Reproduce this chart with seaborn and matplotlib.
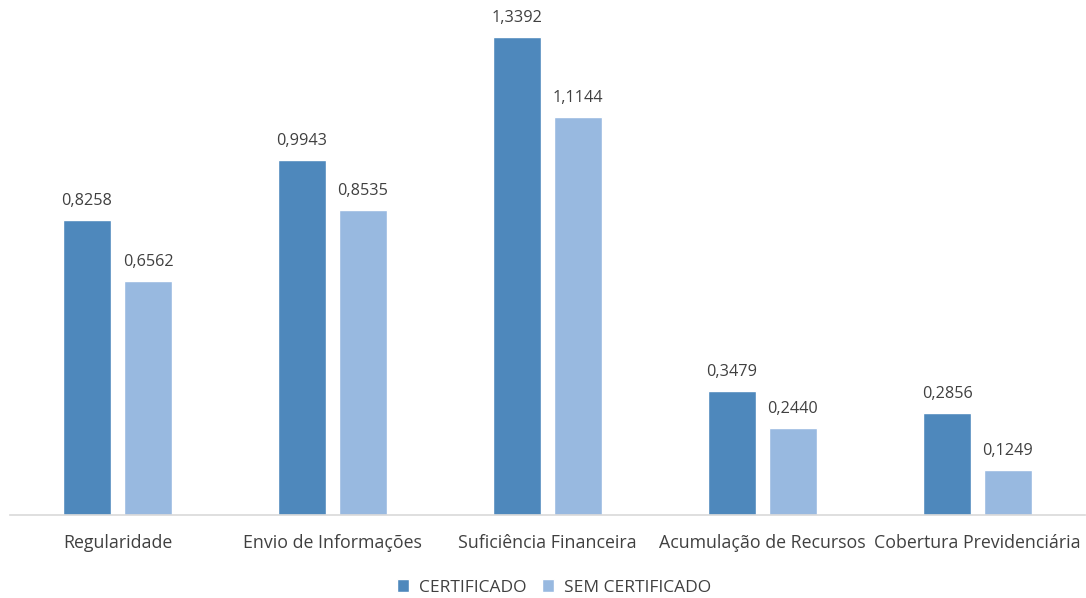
import matplotlib
matplotlib.use("Agg")
import matplotlib.pyplot as plt
import seaborn as sns
import pandas as pd

categories = ["Regularidade", "Envio de Informações", "Suficiência Financeira",
              "Acumulação de Recursos", "Cobertura Previdenciária"]
certificado = [0.8258, 0.9943, 1.3392, 0.3479, 0.2856]
sem_certificado = [0.6562, 0.8535, 1.1144, 0.2440, 0.1249]
series_names = ["CERTIFICADO", "SEM CERTIFICADO"]
colors = ["#4e88bc", "#98b9e0"]

df = pd.DataFrame({
    "cat": categories * 2,
    "val": certificado + sem_certificado,
    "serie": [series_names[0]] * 5 + [series_names[1]] * 5,
})

sns.set_theme(style="white")
plt.rcParams['font.family'] = ['Open Sans', 'DejaVu Sans']

fig = plt.figure(figsize=(10.86, 5.98), dpi=100)
ax = fig.add_axes([10/1086, 83/598, 1075/1086, 515/598])

sns.barplot(data=df, x="cat", y="val", hue="serie", palette=colors,
            width=0.567, gap=0.2, ax=ax, saturation=1, legend=True)

for cont in ax.containers:
    labels = [f"{v:.4f}".replace(".", ",") for v in cont.datavalues]
    ax.bar_label(cont, labels=labels, padding=8, fontsize=11.7, color="#404040")

ax.set_xlim(-0.5, 4.5)
ax.set_ylim(0, 1.443)
ax.set_xlabel("")
ax.set_ylabel("")
ax.set_yticks([])
for s in ["top", "right", "left"]:
    ax.spines[s].set_visible(False)
ax.spines["bottom"].set_color("#d9d9d9")
ax.spines["bottom"].set_linewidth(1.2)
ax.tick_params(axis="x", length=0, pad=14, labelsize=12.8, labelcolor="#404040")

handles, labs = ax.get_legend_handles_labels()
ax.get_legend().remove()
fig.legend(handles, labs, loc="lower center", bbox_to_anchor=(0.51, -0.022), ncol=2,
           frameon=False, fontsize=12.5, handlelength=0.7, handleheight=0.7,
           handletextpad=0.55, columnspacing=0.9, labelcolor="#404040")

fig.savefig("out.png", dpi=100)
